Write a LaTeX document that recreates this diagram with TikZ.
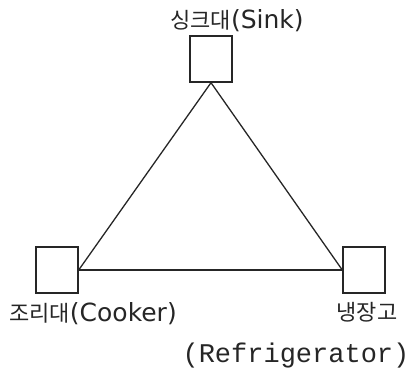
\documentclass[tikz,border=0pt]{standalone}
\usepackage{fontspec}
\setmainfont{Noto Sans CJK KR}
\newfontfamily\monofont{Liberation Mono}
\newfontfamily\latinfont{DejaVu Sans}
\newcommand{\eng}[1]{{\latinfont\fontsize{25}{27}\selectfont #1}}
\usetikzlibrary{positioning}

\begin{document}
\begin{tikzpicture}[
  x=1pt, y=-1pt,
  spot/.style={draw=black!85, line width=1.4pt, fill=white,
               minimum width=42pt, minimum height=46pt, inner sep=0pt},
  lbl/.style={font=\fontsize{22}{24}\selectfont, inner sep=0pt, text=black!85},
  link/.style={line width=1.3pt, draw=black!85},
]
\useasboundingbox (0,0) rectangle (411,377);
\node[spot] (sink) at (211,59) {};
\node[spot] (cooker) at (57,270) {};
\node[spot] (fridge) at (364,270) {};
\node[lbl] (sinklbl) at (237,21) {싱크대\eng{(Sink)}};
\node[lbl] (cookerlbl) at (93,314) {조리대\eng{(Cooker)}};
\node[lbl] (fridgelbl) at (367,312) {냉장고};
\node[lbl, font=\monofont\fontsize{27}{29}\selectfont] (fridgeen) at (296,356) {(Refrigerator)};
\draw[link] (sink.south) -- (cooker.east);
\draw[link] (sink.south) -- (fridge.west);
\draw[link] (cooker.east) -- (fridge.west);
\end{tikzpicture}
\end{document}
